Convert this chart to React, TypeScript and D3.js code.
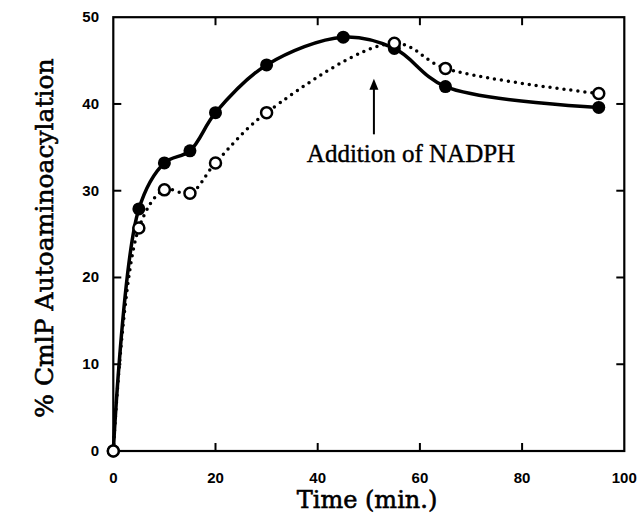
import React, { useEffect, useRef } from "react";
import * as d3 from "d3";

// time in minutes
const timeFilled = [0, 5, 10, 15, 20, 30, 45, 55, 65, 95];
const valFilled = [0, 27.9, 33.2, 34.6, 39.0, 44.5, 47.7, 46.4, 42.0, 39.6];

const timeOpen = [0, 5, 10, 15, 20, 30, 55, 65, 95];
const valOpen = [0, 25.7, 30.1, 29.7, 33.2, 39.0, 47.0, 44.1, 41.2];

const xTicks = [0, 20, 40, 60, 80, 100];
const yTicks = [0, 10, 20, 30, 40, 50];

const noteText = "Addition of NADPH";
const noteTime = 51;
const noteFrom = 36.5;
const noteTo = 42.9;

const W = 642;
const H = 517;

export default function App() {
  const ref = useRef<SVGSVGElement>(null);

  useEffect(() => {
    const svg = d3.select(ref.current);
    svg.selectAll("*").remove();

    const x = d3.scaleLinear().domain([0, 100]).range([113.3, 624.3]);
    const y = d3.scaleLinear().domain([0, 50]).range([451, 17.2]);

    const tickFont = "'Liberation Sans', Arial, sans-serif";
    const serif = "'DejaVu Serif', serif";

    // frame
    svg.append("rect")
      .attr("x", x(0)).attr("y", y(50))
      .attr("width", x(100) - x(0)).attr("height", y(0) - y(50))
      .attr("fill", "none").attr("stroke", "#000").attr("stroke-width", 2.2);

    // inward ticks on four sides
    const tl = 8;
    const g = svg.append("g").attr("stroke", "#000").attr("stroke-width", 2);
    xTicks.slice(1, -1).forEach(t => {
      g.append("line").attr("x1", x(t)).attr("x2", x(t)).attr("y1", y(0)).attr("y2", y(0) - tl);
      g.append("line").attr("x1", x(t)).attr("x2", x(t)).attr("y1", y(50)).attr("y2", y(50) + tl);
    });
    yTicks.slice(1, -1).forEach(t => {
      g.append("line").attr("x1", x(0)).attr("x2", x(0) + tl).attr("y1", y(t)).attr("y2", y(t));
      g.append("line").attr("x1", x(100)).attr("x2", x(100) - tl).attr("y1", y(t)).attr("y2", y(t));
    });

    // tick labels
    svg.append("g").selectAll("text").data(xTicks).join("text")
      .attr("x", d => x(d)).attr("y", 483)
      .attr("text-anchor", "middle")
      .attr("font-family", tickFont).attr("font-weight", "bold").attr("font-size", 15)
      .text(d => d);
    svg.append("g").selectAll("text").data(yTicks).join("text")
      .attr("x", 99).attr("y", d => y(d) + 5)
      .attr("text-anchor", "end")
      .attr("font-family", tickFont).attr("font-weight", "bold").attr("font-size", 15)
      .text(d => d);

    // axis titles
    svg.append("text")
      .attr("x", 367).attr("y", 508)
      .attr("text-anchor", "middle")
      .attr("font-family", serif).attr("font-size", 24)
      .attr("stroke", "#000").attr("stroke-width", 0.6)
      .text("Time (min.)");
    svg.append("text")
      .attr("transform", "translate(53,238) rotate(-90)")
      .attr("text-anchor", "middle")
      .attr("font-family", serif).attr("font-size", 25)
      .attr("stroke", "#000").attr("stroke-width", 0.6)
      .text("% CmlP Autoaminoacylation");

    const filled = timeFilled.map((t, i) => [t, valFilled[i]] as [number, number]);
    const open = timeOpen.map((t, i) => [t, valOpen[i]] as [number, number]);

    const line = d3.line<[number, number]>()
      .x(d => x(d[0])).y(d => y(d[1]))
      .curve(d3.curveCatmullRom.alpha(0.5));

    svg.append("path").datum(open)
      .attr("d", line)
      .attr("fill", "none").attr("stroke", "#000")
      .attr("stroke-width", 3.5).attr("stroke-linecap", "round")
      .attr("stroke-dasharray", "0 7");

    svg.append("path").datum(filled)
      .attr("d", line)
      .attr("fill", "none").attr("stroke", "#000")
      .attr("stroke-width", 3.5).attr("stroke-linejoin", "round");

    svg.append("g").selectAll("circle").data(filled).join("circle")
      .attr("cx", d => x(d[0])).attr("cy", d => y(d[1])).attr("r", 6.5)
      .attr("fill", "#000");

    svg.append("g").selectAll("circle").data(open).join("circle")
      .attr("cx", d => x(d[0])).attr("cy", d => y(d[1])).attr("r", 5.5)
      .attr("fill", "#fff").attr("stroke", "#000").attr("stroke-width", 2.5);

    // annotation arrow
    svg.append("line")
      .attr("x1", x(noteTime)).attr("x2", x(noteTime))
      .attr("y1", y(noteFrom)).attr("y2", y(noteTo) + 9)
      .attr("stroke", "#000").attr("stroke-width", 2);
    const ax = x(noteTime), ay = y(noteTo);
    svg.append("path")
      .attr("d", `M${ax},${ay} L${ax - 4.5},${ay + 11} L${ax + 4.5},${ay + 11} Z`)
      .attr("fill", "#000");

    svg.append("text")
      .attr("x", 411).attr("y", 162)
      .attr("text-anchor", "middle")
      .attr("font-family", "'Liberation Serif', 'Times New Roman', serif")
      .attr("font-size", 25)
      .attr("stroke", "#000").attr("stroke-width", 0.4)
      .text(noteText);
  }, []);

  return (
    <svg ref={ref} width={W} height={H}
      style={{ position: "absolute", left: 0, top: 0, background: "#fff" }} />
  );
}
